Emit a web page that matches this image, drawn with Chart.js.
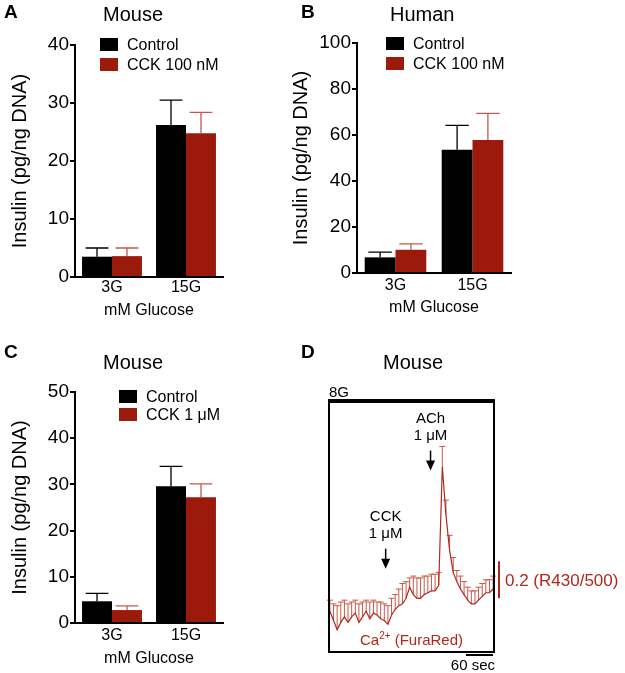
<!DOCTYPE html>
<html lang="en">
<head>
  <meta charset="UTF-8">
  <title>CCK and insulin secretion</title>
  <script src="https://cdn.jsdelivr.net/npm/chart.js"></script>
  <style>
    body {
      margin: 0;
      background: #fff;
      font-family: "Liberation Sans", Arial, Helvetica, sans-serif;
    }
    #fig {
      position: relative;
      width: 625px;
      height: 673px;
    }
    #fig canvas, .t, .box {
      position: absolute;
    }
    .t {
      line-height: 1;
      white-space: nowrap;
      color: #000;
    }
    .letter { font-size: 19px; font-weight: bold; }
    .title { font-size: 20px; }
    .leg { font-size: 16px; }
  </style>
</head>
<body>
  <div id="fig">
    <canvas id="chartA" width="312" height="320" style="left:0;top:0"></canvas>
    <canvas id="chartB" width="345" height="320" style="left:280px;top:0"></canvas>
    <canvas id="chartC" width="312" height="353" style="left:0;top:320px"></canvas>
    <canvas id="chartD" width="313" height="353" style="left:312px;top:320px"></canvas>

    <div class="t letter" style="left:4px;top:2px">A</div>
    <div class="t letter" style="left:301px;top:2px">B</div>
    <div class="t letter" style="left:4px;top:342px">C</div>
    <div class="t letter" style="left:301px;top:342px">D</div>

    <div class="t title" style="left:103px;top:4px">Mouse</div>
    <div class="t title" style="left:390px;top:4px">Human</div>
    <div class="t title" style="left:103px;top:352px">Mouse</div>
    <div class="t title" style="left:383px;top:352px">Mouse</div>
  </div>

  <script>
    const FONT = '"Liberation Sans", Arial, Helvetica, sans-serif';
    const RED = '#9b1a0b';
    const RED_ERR = '#c25a4c';
    Chart.defaults.font.family = FONT;
    Chart.defaults.color = '#000';

    // bar panels
    const glucose = ['3G', '15G'];
    const namesAB = ['Control', 'CCK 100 nM'];
    const namesC = ['Control', 'CCK 1 μM'];

    const mouseCtrl = [3.5, 26.2];
    const mouseCtrlErr = [1.5, 4.3];
    const mouseCck = [3.6, 24.8];
    const mouseCckErr = [1.4, 3.6];

    const humanCtrl = [6.8, 53.6];
    const humanCtrlErr = [2.3, 10.6];
    const humanCck = [10.1, 57.8];
    const humanCckErr = [2.6, 11.6];

    const mouse1Ctrl = [4.7, 29.6];
    const mouse1CtrlErr = [1.7, 4.3];
    const mouse1Cck = [2.8, 27.2];
    const mouse1CckErr = [0.9, 2.9];

    // calcium trace (panel D), seconds
    const caTime = [0, 8, 16, 24, 32, 40, 48, 56, 64, 72,
      80, 88, 96, 104, 112, 120, 128, 136, 144, 152,
      160, 168, 176, 184, 192, 200, 208, 216, 224, 232,
      240, 248, 256, 264, 272, 280, 288, 296, 304, 312,
      320, 328, 336, 344, 352, 360];
    const caMean = [0.22, 0.17, 0.12, 0.16, 0.19, 0.16, 0.19, 0.21, 0.16, 0.19,
      0.22, 0.18, 0.21, 0.20, 0.18, 0.17, 0.15, 0.20, 0.23, 0.25,
      0.26, 0.29, 0.35, 0.31, 0.29, 0.29, 0.31, 0.32, 0.33, 0.33,
      0.36, 1.00, 0.74, 0.55, 0.43, 0.38, 0.34, 0.31, 0.28, 0.26,
      0.26, 0.28, 0.30, 0.32, 0.32, 0.34];
    const caErr = [0.06, 0.09, 0.13, 0.11, 0.09, 0.10, 0.08, 0.07, 0.10, 0.08,
      0.06, 0.09, 0.07, 0.07, 0.09, 0.09, 0.10, 0.09, 0.08, 0.09,
      0.11, 0.09, 0.05, 0.10, 0.11, 0.11, 0.10, 0.09, 0.09, 0.09,
      0.07, 0.11, 0.08, 0.08, 0.08, 0.06, 0.07, 0.07, 0.07, 0.07,
      0.07, 0.07, 0.07, 0.07, 0.07, 0.07];
    const eventNames = [['CCK', '1 μM'], ['ACh', '1 μM']];
    const eventTime = [123, 222];
    const eventTip = [0.45, 0.98];

    const errorBars = {
      id: 'errorBars',
      afterDatasetsDraw(chart) {
        const ctx = chart.ctx;
        const y = chart.scales.y;
        chart.data.datasets.forEach((ds, i) => {
          chart.getDatasetMeta(i).data.forEach((bar, j) => {
            const top = y.getPixelForValue(ds.data[j] + ds.err[j]);
            const half = bar.width * 0.38;
            ctx.save();
            ctx.strokeStyle = ds.errColor;
            ctx.lineWidth = 1.3;
            ctx.beginPath();
            ctx.moveTo(bar.x, bar.y);
            ctx.lineTo(bar.x, top);
            ctx.moveTo(bar.x - half, top);
            ctx.lineTo(bar.x + half, top);
            ctx.stroke();
            ctx.restore();
          });
        });
      }
    };

    function barChart(id, names, ctrl, ctrlErr, cck, cckErr, yMax, yStep, box) {
      return new Chart(document.getElementById(id), {
        type: 'bar',
        data: {
          labels: glucose,
          datasets: [
            { label: names[0], data: ctrl, err: ctrlErr, backgroundColor: '#000', errColor: '#000' },
            { label: names[1], data: cck, err: cckErr, backgroundColor: RED, errColor: RED_ERR }
          ]
        },
        options: {
          responsive: false,
          animation: false,
          events: [],
          layout: { padding: { left: 0, right: box.padR, top: box.padT, bottom: 0 } },
          datasets: { bar: { categoryPercentage: box.cat, barPercentage: 1 } },
          plugins: { legend: { display: false }, tooltip: { enabled: false } },
          scales: {
            x: {
              grid: { display: false, drawTicks: false },
              border: { color: '#000', width: 2 },
              ticks: { color: '#000', font: { size: 16 }, padding: box.xPad },
              title: { display: true, text: 'mM Glucose', color: '#000', font: { size: 16 }, padding: { top: 0, bottom: box.xtPad } },
              afterFit: s => { s.height = box.xH; }
            },
            y: {
              min: 0,
              max: yMax,
              ticks: { stepSize: yStep, color: '#000', font: { size: 19 }, padding: 1 },
              grid: { drawOnChartArea: false, tickLength: 5, color: '#000', lineWidth: 2 },
              border: { color: '#000', width: 2 },
              title: { display: true, text: 'Insulin (pg/ng DNA)', color: '#000', font: { size: 20 }, padding: { top: box.ytPad, bottom: 0 } },
              afterFit: s => { s.width = box.yW; }
            }
          }
        },
        plugins: [errorBars]
      });
    }

    function legend(x, y, gap, names, colors) {
      const fig = document.getElementById('fig');
      names.forEach((n, k) => {
        const b = document.createElement('div');
        b.className = 'box';
        b.style.cssText = `left:${x}px;top:${y + k * gap}px;width:18px;height:13px;background:${colors[k]}`;
        fig.appendChild(b);
        const t = document.createElement('div');
        t.className = 't leg';
        t.textContent = n;
        t.style.cssText = `left:${x + 27}px;top:${y + k * gap - 1.3}px`;
        fig.appendChild(t);
      });
    }

    barChart('chartA', namesAB, mouseCtrl, mouseCtrlErr, mouseCck, mouseCckErr, 40, 10,
      { padR: 89, padT: 45, yW: 75, xH: 43, cat: 0.81, xPad: 1, xtPad: 0, ytPad: 8 });
    barChart('chartB', namesAB, humanCtrl, humanCtrlErr, humanCck, humanCckErr, 100, 20,
      { padR: 114, padT: 43, yW: 77, xH: 47, cat: 0.8, xPad: 3, xtPad: 2.5, ytPad: 9 });
    barChart('chartC', namesC, mouse1Ctrl, mouse1CtrlErr, mouse1Cck, mouse1CckErr, 50, 10,
      { padR: 89, padT: 72, yW: 75, xH: 50, cat: 0.81, xPad: 3, xtPad: 5, ytPad: 8 });

    legend(100, 38, 20, namesAB, ['#000', RED]);
    legend(386, 37, 20, namesAB, ['#000', RED]);
    legend(119, 390, 18, namesC, ['#000', RED]);

    // panel D decorations: SEM bars, frame, arrows, scale bars
    const caDecor = {
      id: 'caDecor',
      beforeDatasetsDraw(chart) {
        const { ctx, scales: { x, y } } = chart;
        ctx.save();
        ctx.strokeStyle = '#c9574a';
        ctx.lineWidth = 1;
        caTime.forEach((t, i) => {
          const px = x.getPixelForValue(t);
          const y0 = y.getPixelForValue(caMean[i]);
          const y1 = y.getPixelForValue(caMean[i] + caErr[i]);
          ctx.beginPath();
          ctx.moveTo(px, y0);
          ctx.lineTo(px, y1);
          ctx.moveTo(px - 3, y1);
          ctx.lineTo(px + 3, y1);
          ctx.stroke();
        });
        ctx.restore();
      },
      afterDraw(chart) {
        const { ctx, chartArea: a, scales: { x, y } } = chart;
        ctx.save();
        ctx.strokeStyle = '#000';
        ctx.lineWidth = 2;
        ctx.strokeRect(a.left, a.top, a.right - a.left, a.bottom - a.top);
        ctx.lineWidth = 4;
        ctx.beginPath();
        ctx.moveTo(a.left - 1, a.top - 1);
        ctx.lineTo(a.right + 1, a.top - 1);
        ctx.stroke();

        ctx.fillStyle = '#000';
        ctx.font = '15px ' + FONT;
        ctx.textBaseline = 'alphabetic';
        ctx.textAlign = 'left';
        ctx.fillText('8G', a.left, a.top - 5);

        ctx.textAlign = 'center';
        eventTime.forEach((t, i) => {
          const px = x.getPixelForValue(t);
          const tip = y.getPixelForValue(eventTip[i]);
          const top = tip - 20;
          ctx.lineWidth = 1.5;
          ctx.beginPath();
          ctx.moveTo(px, top);
          ctx.lineTo(px, tip - 8);
          ctx.stroke();
          ctx.beginPath();
          ctx.moveTo(px - 4.5, tip - 10);
          ctx.lineTo(px + 4.5, tip - 10);
          ctx.lineTo(px, tip);
          ctx.closePath();
          ctx.fill();
          ctx.fillText(eventNames[i][0], px, top - 28);
          ctx.fillText(eventNames[i][1], px, top - 11);
        });

        // 60 s bar
        ctx.lineWidth = 2;
        ctx.beginPath();
        ctx.moveTo(x.getPixelForValue(300), a.bottom + 3);
        ctx.lineTo(x.getPixelForValue(360), a.bottom + 3);
        ctx.stroke();
        ctx.textAlign = 'right';
        ctx.fillText('60 sec', a.right + 1, a.bottom + 18);

        // 0.2 ratio bar
        const yb = y.getPixelForValue(0.29);
        const yt = y.getPixelForValue(0.49);
        ctx.strokeStyle = '#b3261e';
        ctx.fillStyle = '#b3261e';
        ctx.beginPath();
        ctx.moveTo(a.right + 5, yb);
        ctx.lineTo(a.right + 5, yt);
        ctx.stroke();
        ctx.font = '17px ' + FONT;
        ctx.textAlign = 'left';
        ctx.fillText('0.2 (R430/500)', a.right + 11, (yb + yt) / 2 + 6);

        // Ca2+ (FuraRed) label
        const big = '15px ' + FONT, small = '10px ' + FONT;
        ctx.font = big;
        const w1 = ctx.measureText('Ca').width;
        const w3 = ctx.measureText(' (FuraRed)').width;
        ctx.font = small;
        const w2 = ctx.measureText('2+').width;
        let lx = (a.left + a.right) / 2 - (w1 + w2 + w3) / 2;
        const by = a.bottom - 7;
        ctx.font = big;
        ctx.fillText('Ca', lx, by);
        ctx.font = small;
        ctx.fillText('2+', lx + w1, by - 6);
        ctx.font = big;
        ctx.fillText(' (FuraRed)', lx + w1 + w2, by);
        ctx.restore();
      }
    };

    new Chart(document.getElementById('chartD'), {
      type: 'line',
      data: {
        datasets: [{
          label: 'Ca2+ (FuraRed)',
          data: caTime.map((t, i) => ({ x: t, y: caMean[i] })),
          borderColor: '#b02a1a',
          borderWidth: 1.2,
          pointRadius: 0,
          tension: 0
        }]
      },
      options: {
        responsive: false,
        animation: false,
        events: [],
        layout: { padding: { left: 17, right: 131, top: 82, bottom: 21 } },
        plugins: { legend: { display: false }, tooltip: { enabled: false } },
        scales: {
          x: { type: 'linear', min: -2, max: 362, display: false },
          y: { min: 0, max: 1.35, display: false }
        }
      },
      plugins: [caDecor]
    });
  </script>
</body>
</html>
